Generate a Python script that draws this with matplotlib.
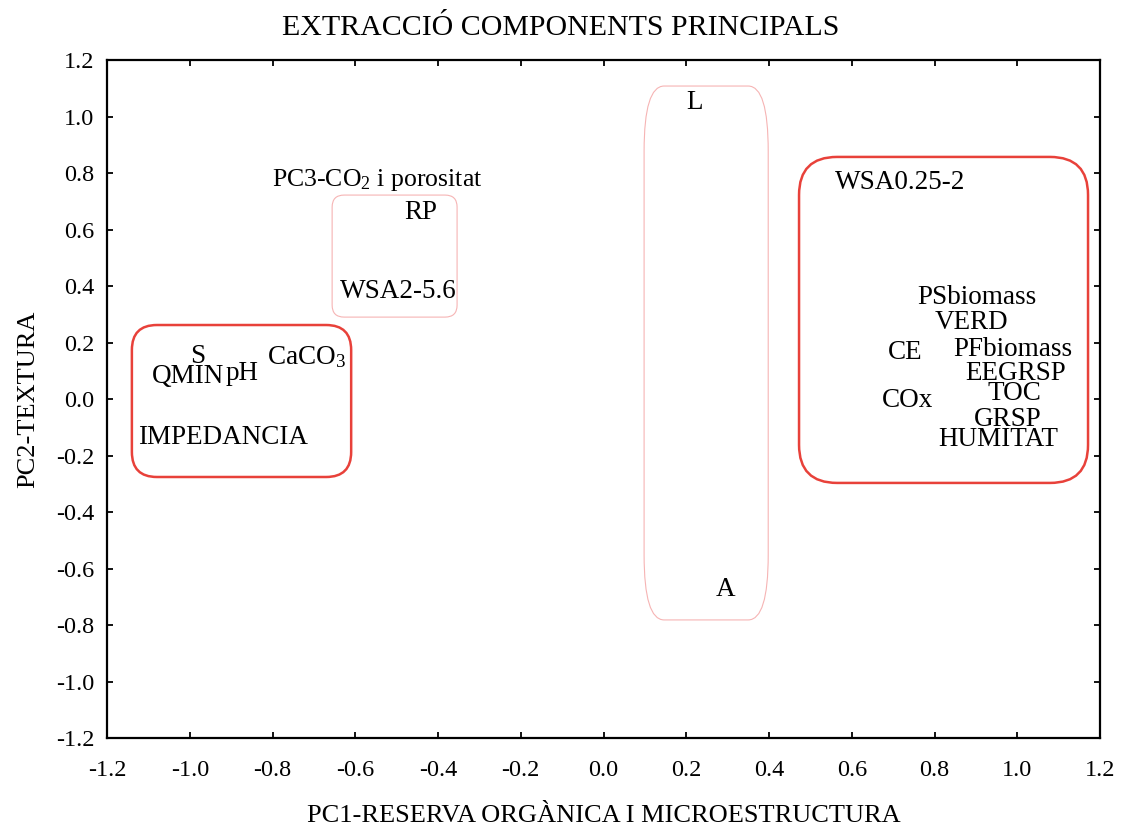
import matplotlib
matplotlib.use("Agg")
import matplotlib.pyplot as plt
from matplotlib.patches import FancyBboxPatch

plt.rcParams['font.family'] = ['Liberation Serif', 'DejaVu Serif']
plt.rcParams['mathtext.fontset'] = 'custom'
plt.rcParams['mathtext.rm'] = 'Liberation Serif'
plt.rcParams['mathtext.it'] = 'Liberation Serif'

# factor loadings (PC1, PC2)
variables = ['L', 'A', 'WSA0.25-2', 'PSbiomass', 'VERD', 'CE', 'PFbiomass',
             'EEGRSP', 'TOC', 'COx', 'GRSP', 'HUMITAT', 'RP', 'WSA2-5.6',
             'S', 'QMIN', 'pH', 'CaCO$_3$', 'IMPEDANCIA']
pc1 = [0.219, 0.296, 0.717, 0.902, 0.890, 0.729, 0.990,
       0.997, 0.992, 0.736, 0.976, 0.954, -0.441, -0.497,
       -0.982, -1.004, -0.874, -0.717, -0.920]
pc2 = [1.048, -0.676, 0.768, 0.361, 0.272, 0.166, 0.177,
       0.092, 0.021, -0.004, -0.074, -0.145, 0.662, 0.382,
       0.149, 0.078, 0.092, 0.149, -0.135]

# groups drawn as rounded boxes: (x0, x1, y0, y1, rx_px, ry_px, color, lw)
groups = [
    (-1.14, -0.610, -0.276, 0.262, 25, 25, '#e8413a', 1.8),
    (-0.656, -0.354, 0.290, 0.722, 12, 12, '#f6b4b4', 0.8),
    (0.098, 0.398, -0.782, 1.108, 20, 65, '#f6b4b4', 0.8),
    (0.4725, 1.171, -0.297, 0.857, 38, 38, '#e8413a', 1.8),
]

fig = plt.figure(figsize=(11.21, 8.27), dpi=100)
ax = fig.add_axes([0.0955, 0.1076, 0.9813 - 0.0955, 0.9274 - 0.1076])
ax.set_xlim(-1.2, 1.2)
ax.set_ylim(-1.2, 1.2)

# px per data unit, to keep corners round on screen
sx = 0.8858 * 1121 / 2.4
sy = 0.8198 * 827 / 2.4
for x0, x1, y0, y1, rx, ry, col, lw in groups:
    r = rx / sx
    box = FancyBboxPatch((x0, y0), x1 - x0, y1 - y0,
                         boxstyle="round,pad=0,rounding_size=%f" % r,
                         mutation_aspect=(ry / sy) / r,
                         fc='none', ec=col, lw=lw, zorder=1)
    ax.add_patch(box)

for name, x, y in zip(variables, pc1, pc2):
    ax.text(x, y, name, ha='center', va='center', fontsize=19.5, zorder=3)

ax.text(-0.547, 0.775, 'PC3-CO$_2$ i porositat', ha='center', va='center',
        fontsize=18.5)

ticks = [-1.2, -1.0, -0.8, -0.6, -0.4, -0.2, 0.0, 0.2, 0.4, 0.6, 0.8, 1.0, 1.2]
ax.set_xticks(ticks)
ax.set_yticks(ticks)
ax.set_xticklabels(['%.1f' % t for t in ticks])
ax.set_yticklabels(['%.1f' % t for t in ticks])
ax.tick_params(direction='in', length=4, width=1.3, top=True, right=True,
               labelsize=17.5)
ax.tick_params(axis='x', pad=16)
ax.tick_params(axis='y', pad=9)
for s in ax.spines.values():
    s.set_linewidth(1.6)

ax.set_xlabel('PC1-RESERVA ORGÀNICA I MICROESTRUCTURA', fontsize=19, labelpad=17)
ax.set_ylabel('PC2-TEXTURA', fontsize=19, labelpad=12)
fig.text(0.5, 1 - 28 / 827, 'EXTRACCIÓ COMPONENTS PRINCIPALS', fontsize=21.5,
         ha='center', va='center')

fig.savefig('out.png', dpi=100)
